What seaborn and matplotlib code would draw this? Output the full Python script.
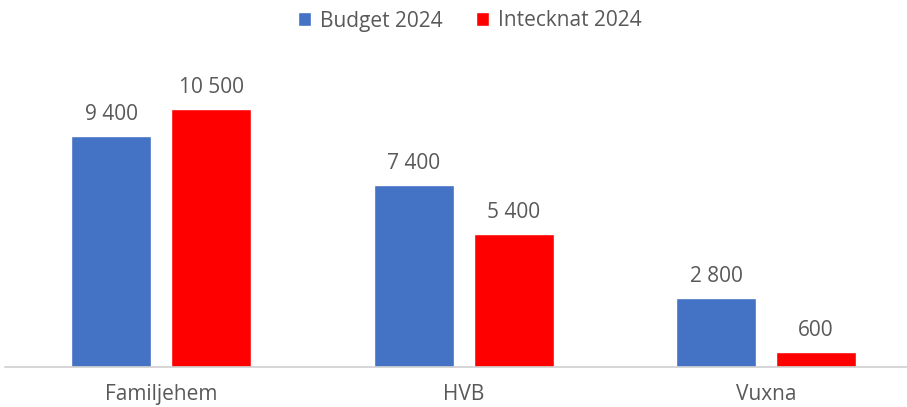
import pandas as pd
import matplotlib.pyplot as plt
import seaborn as sns

categories = ["Familjehem", "HVB", "Vuxna"]
budget_2024 = [9400, 7400, 2800]
intecknat_2024 = [10500, 5400, 600]
series_names = ["Budget 2024", "Intecknat 2024"]

df = pd.DataFrame({
    "kategori": categories * 2,
    "serie": [series_names[0]] * 3 + [series_names[1]] * 3,
    "belopp": budget_2024 + intecknat_2024,
})

sns.set_theme(style="white")
plt.rcParams["font.family"] = ["Open Sans", "DejaVu Sans"]
text_color = "#595959"

fig = plt.figure(figsize=(9.07, 4.07), dpi=100)
ax = fig.add_axes([5 / 907, 40 / 407, 902 / 907, 307 / 407])

sns.barplot(data=df, x="kategori", y="belopp", hue="serie",
            palette=["#4472C4", "#FF0000"], width=0.661, gap=0.2,
            saturation=1, ax=ax, legend=True)

for cont in ax.containers:
    ax.bar_label(cont, labels=[f"{v:,.0f}".replace(",", " ") for v in cont.datavalues],
                 padding=8, fontsize=15, color=text_color)

ax.set_xlim(-0.516, 2.466)
ax.set_ylim(0, 12480)
ax.set_yticks([])
ax.set_xlabel("")
ax.set_ylabel("")
for side in ["top", "right", "left"]:
    ax.spines[side].set_visible(False)
ax.spines["bottom"].set_color("#D0D0D0")
ax.spines["bottom"].set_linewidth(1.2)
ax.tick_params(axis="x", length=0, pad=12, labelsize=15, labelcolor=text_color)

# legend centred a bit right of the axes middle, near the top edge
handles, labels = ax.get_legend_handles_labels()
ax.legend(handles, labels, loc="center", bbox_to_anchor=(0.515, (367 - 21) / 307),
          ncol=2, frameon=False, fontsize=15, labelcolor=text_color,
          handlelength=0.65, handleheight=0.65, handletextpad=0.4, columnspacing=1.6)

fig.savefig("out.png", dpi=100)
